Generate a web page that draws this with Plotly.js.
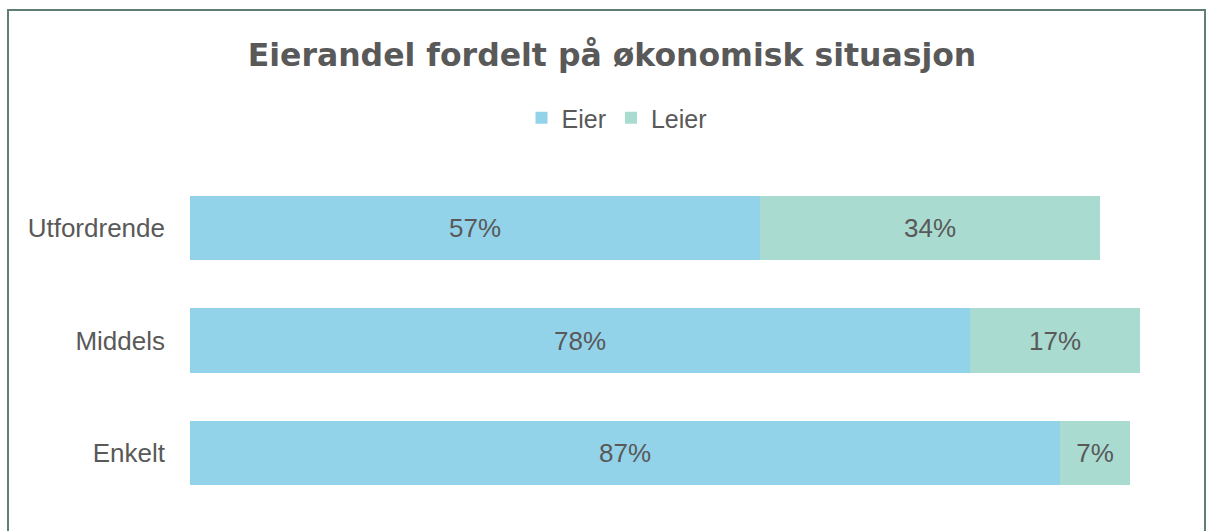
<!DOCTYPE html>
<html>
<head>
<meta charset="utf-8">
<script src="https://cdn.plot.ly/plotly-3.0.1.min.js"></script>
<style>
html,body{margin:0;padding:0;background:#fff;overflow:hidden;}
#chart{position:absolute;left:0;top:0;width:1206px;height:531px;}
#frame{position:absolute;left:7px;top:9px;width:1195px;height:540px;border:2px solid #5f7f75;pointer-events:none;}
</style>
</head>
<body>
<div id="chart"></div>
<div id="frame"></div>
<script>
const categories = ["Enkelt", "Middels", "Utfordrende"];
const eier = [87, 78, 57];
const leier = [7, 17, 34];
const seriesNames = ["Eier", "Leier"];

const textColor = "#595959";
const labelFont = {family: "Liberation Sans, Arial, sans-serif", size: 26, color: textColor};
const legendFont = {family: "Liberation Sans, Arial, sans-serif", size: 25, color: textColor};

const traces = [
  {type: "bar", orientation: "h", name: seriesNames[0], y: categories, x: eier,
   text: eier.map(v => v + "%"), textposition: "inside", insidetextanchor: "middle",
   textangle: 0, constraintext: "none", insidetextfont: labelFont,
   marker: {color: "#93D3EA"}, hoverinfo: "none"},
  {type: "bar", orientation: "h", name: seriesNames[1], y: categories, x: leier,
   text: leier.map(v => v + "%"), textposition: "inside", insidetextanchor: "middle",
   textangle: 0, constraintext: "none", insidetextfont: labelFont,
   marker: {color: "#A9DBD0"}, hoverinfo: "none"}
];

const layout = {
  width: 1206, height: 531,
  paper_bgcolor: "#fff", plot_bgcolor: "#fff",
  margin: {l: 190, r: 16, t: 172, b: 22},
  barmode: "stack",
  bargap: 0.43,
  title: {text: "<b>Eierandel fordelt på økonomisk situasjon</b>",
          font: {family: "'DejaVu Sans', sans-serif", size: 31.5, color: textColor},
          x: 612/1206, xanchor: "center", yref: "container", y: 1 - 55/531, yanchor: "middle"},
  showlegend: true,
  legend: {orientation: "h", x: 617/1206, xanchor: "center", xref: "container",
           yref: "container", y: 1 - 118/531, yanchor: "middle",
           font: legendFont, itemwidth: 30, traceorder: "normal"},
  xaxis: {range: [0, 100], visible: false, showgrid: false, zeroline: false, fixedrange: true},
  yaxis: {type: "category", categoryorder: "array", categoryarray: categories,
          showgrid: false, zeroline: false, showline: false, ticks: "",
          ticklabelstandoff: 24, tickfont: labelFont, fixedrange: true}
};

Plotly.newPlot("chart", traces, layout, {displayModeBar: false, staticPlot: true});
</script>
</body>
</html>
